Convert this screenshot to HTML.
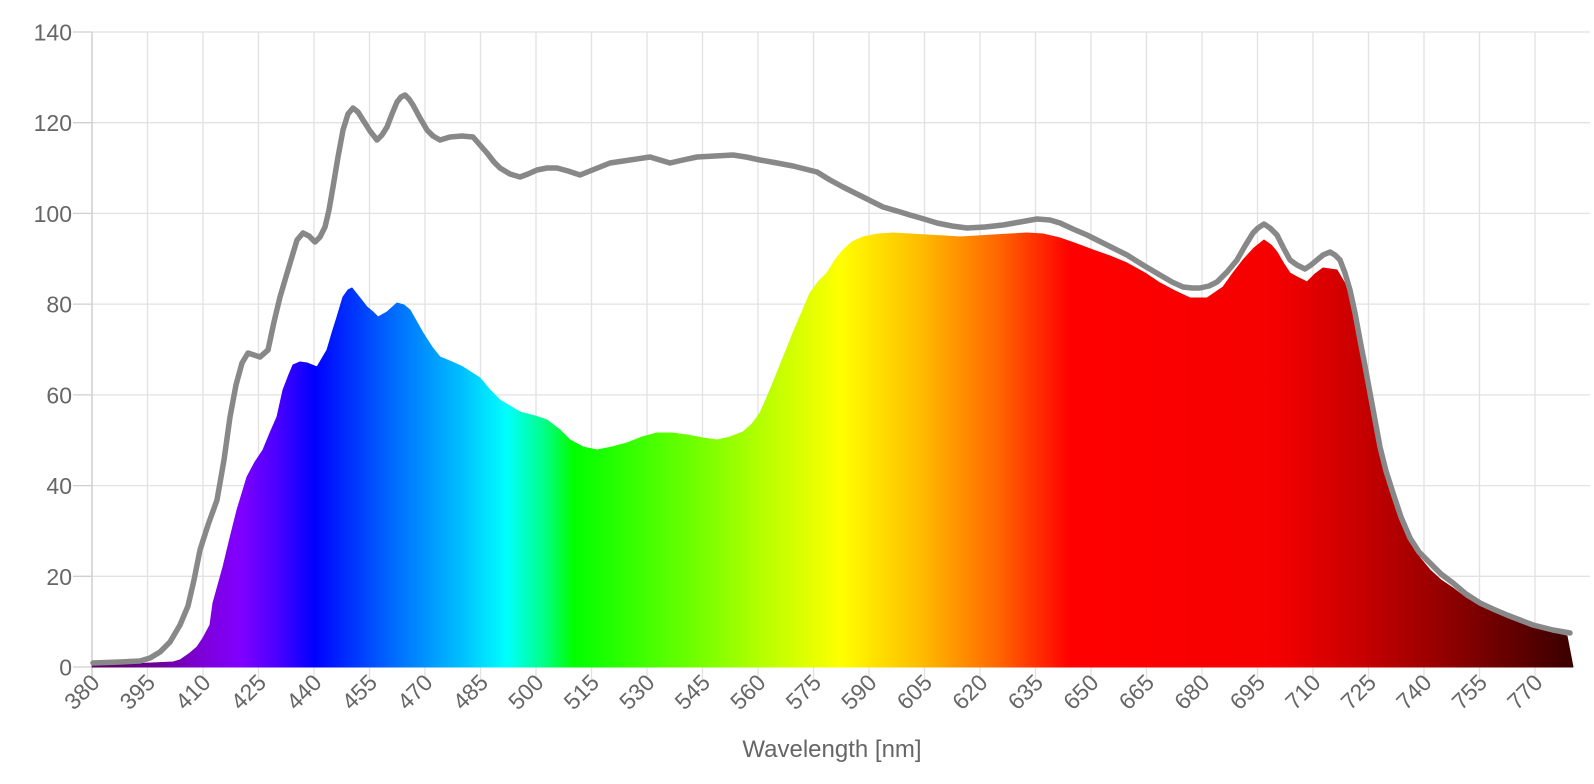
<!DOCTYPE html>
<html><head><meta charset="utf-8"><style>
html,body{margin:0;padding:0;background:#fff;}
svg{display:block;font-family:"Liberation Sans",Arial,sans-serif;}
</style></head><body>
<svg width="1594" height="784" viewBox="0 0 1594 784" xmlns="http://www.w3.org/2000/svg">
<defs>
<linearGradient id="sp" gradientUnits="userSpaceOnUse" x1="92" y1="0" x2="1573" y2="0">
<stop offset="0" stop-color="#5c0060"/>
<stop offset="0.04" stop-color="#6a0090"/>
<stop offset="0.075" stop-color="#7e00d8"/>
<stop offset="0.1" stop-color="#8000ff"/>
<stop offset="0.125" stop-color="#4a00ff"/>
<stop offset="0.15" stop-color="#0000ff"/>
<stop offset="0.2" stop-color="#0064ff"/>
<stop offset="0.25" stop-color="#00c0ff"/>
<stop offset="0.28" stop-color="#00ffff"/>
<stop offset="0.305" stop-color="#00ff88"/>
<stop offset="0.325" stop-color="#00ff00"/>
<stop offset="0.4" stop-color="#66ff00"/>
<stop offset="0.46" stop-color="#c0ff00"/>
<stop offset="0.505" stop-color="#ffff00"/>
<stop offset="0.56" stop-color="#ffbb00"/>
<stop offset="0.61" stop-color="#ff6a00"/>
<stop offset="0.66" stop-color="#ff0000"/>
<stop offset="0.8" stop-color="#f50000"/>
<stop offset="0.86" stop-color="#c40000"/>
<stop offset="0.9" stop-color="#a00000"/>
<stop offset="0.95" stop-color="#6c0000"/>
<stop offset="1" stop-color="#3a0000"/>
</linearGradient>
</defs>
<g stroke="#e2e2e2" stroke-width="1.3">
<line x1="92" y1="32" x2="1590" y2="32"/>
<line x1="92" y1="122.7" x2="1590" y2="122.7"/>
<line x1="92" y1="213.4" x2="1590" y2="213.4"/>
<line x1="92" y1="304.1" x2="1590" y2="304.1"/>
<line x1="92" y1="394.9" x2="1590" y2="394.9"/>
<line x1="92" y1="485.6" x2="1590" y2="485.6"/>
<line x1="92" y1="576.3" x2="1590" y2="576.3"/>
</g>
<g stroke="#e2e2e2" stroke-width="1.3">
<line x1="147.5" y1="32" x2="147.5" y2="680"/><line x1="203" y1="32" x2="203" y2="680"/>
<line x1="258.5" y1="32" x2="258.5" y2="680"/><line x1="314" y1="32" x2="314" y2="680"/>
<line x1="369.5" y1="32" x2="369.5" y2="680"/><line x1="425" y1="32" x2="425" y2="680"/>
<line x1="480.5" y1="32" x2="480.5" y2="680"/><line x1="536" y1="32" x2="536" y2="680"/>
<line x1="591.5" y1="32" x2="591.5" y2="680"/><line x1="647" y1="32" x2="647" y2="680"/>
<line x1="702.5" y1="32" x2="702.5" y2="680"/><line x1="758" y1="32" x2="758" y2="680"/>
<line x1="813.5" y1="32" x2="813.5" y2="680"/><line x1="869" y1="32" x2="869" y2="680"/>
<line x1="924.5" y1="32" x2="924.5" y2="680"/><line x1="980" y1="32" x2="980" y2="680"/>
<line x1="1035.5" y1="32" x2="1035.5" y2="680"/><line x1="1091" y1="32" x2="1091" y2="680"/>
<line x1="1146.5" y1="32" x2="1146.5" y2="680"/><line x1="1202" y1="32" x2="1202" y2="680"/>
<line x1="1257.5" y1="32" x2="1257.5" y2="680"/><line x1="1313" y1="32" x2="1313" y2="680"/>
<line x1="1368.5" y1="32" x2="1368.5" y2="680"/><line x1="1424" y1="32" x2="1424" y2="680"/>
<line x1="1479.5" y1="32" x2="1479.5" y2="680"/><line x1="1535" y1="32" x2="1535" y2="680"/>
</g>
<line x1="92" y1="32" x2="92" y2="680" stroke="#cfcfcf" stroke-width="1.5"/>
<g stroke="#cfcfcf" stroke-width="1.3">
<line x1="73" y1="32" x2="92" y2="32"/><line x1="73" y1="122.7" x2="92" y2="122.7"/>
<line x1="73" y1="213.4" x2="92" y2="213.4"/><line x1="73" y1="304.1" x2="92" y2="304.1"/>
<line x1="73" y1="394.9" x2="92" y2="394.9"/><line x1="73" y1="485.6" x2="92" y2="485.6"/>
<line x1="73" y1="576.3" x2="92" y2="576.3"/><line x1="73" y1="667" x2="92" y2="667"/>
</g>
<polygon fill="url(#sp)" stroke="url(#sp)" stroke-width="1" stroke-linejoin="round" points="92,667 93,664 130,664 173,662 180,660 190,653 197,647 203,638 210,625 213,603 218,585 223,567 230,538 237,510 247,477 255,462 263,450 270,433 277,417 283,390 288,377 293,365 300,362 307,363 317,367 327,350 332,333 337,317 343,297 348,290 352,288 360,298 367,307 373,312 378,317 387,312 397,303 404,305 410,310 423,333 432,347 440,357 452,362 463,367 480,378 490,390 500,400 510,406 520,412 535,416 547,420 560,430 570,440 583,447 597,450 612,447 627,443 642,437 657,433 672,433 687,435 703,438 717,440 730,437 743,432 752,424 760,413 768,395 777,373 785,353 793,333 802,312 810,293 818,282 827,273 835,260 843,250 852,242 863,237 878,234 893,233 910,234 927,235 945,236 960,237 977,236 993,235 1010,234 1027,233 1043,234 1060,238 1077,244 1093,250 1110,256 1127,263 1145,273 1160,283 1175,291 1190,298 1207,298 1223,287 1233,273 1243,260 1254,248 1264,240 1271,245 1277,252 1284,264 1290,273 1299,278 1307,282 1315,274 1323,268 1337,270 1347,287 1353,312 1360,345 1370,398 1380,450 1386,475 1393,497 1401,522 1410,543 1420,558 1430,570 1441,580 1453,588 1466,598 1480,606 1493,612 1507,618 1520,623 1533,628 1553,633 1567,636 1573,667"/>
<polyline fill="none" stroke="#888" stroke-width="5.5" stroke-linejoin="round" stroke-linecap="round" points="93,663 120,662 140,661 150,658 160,652 170,642 180,625 188,606 194,580 200,550 208,525 217,500 224,460 230,417 236,385 242,363 248,353 254,355 260,357 268,350 274,322 280,297 288,270 297,240 303,233 309,236 315,242 320,237 325,227 329,210 333,187 338,157 343,130 348,114 353,108 358,112 363,120 370,131 377,140 382,135 387,127 392,114 397,102 401,97 405,95 409,99 413,105 420,118 427,130 433,136 440,140 450,137 462,136 473,137 480,145 487,153 494,162 500,168 510,174 520,177 528,174 537,170 547,168 557,168 568,171 580,175 595,169 610,163 630,160 650,157 660,160 670,163 683,160 697,157 715,156 733,155 746,157 760,160 777,163 793,166 805,169 817,172 830,180 843,187 863,197 883,207 897,211 910,215 924,219 937,223 952,226 967,228 985,227 1003,225 1020,222 1037,219 1050,220 1060,223 1073,229 1087,235 1107,245 1127,255 1143,265 1160,275 1172,282 1183,287 1192,288 1200,288 1209,286 1217,282 1227,272 1237,260 1245,246 1253,233 1258,228 1264,224 1270,228 1277,235 1283,247 1290,260 1297,265 1305,269 1311,265 1317,260 1323,255 1330,252 1335,255 1340,260 1345,273 1350,290 1355,313 1360,340 1365,366 1370,393 1375,420 1380,447 1386,471 1393,493 1401,517 1410,538 1419,552 1430,563 1441,574 1453,583 1466,594 1480,603 1493,609 1507,615 1520,620 1533,625 1553,630 1570,633"/>
<g fill="#666" font-size="23" text-anchor="end">
<text x="72" y="40.5">140</text><text x="72" y="131.2">120</text>
<text x="72" y="221.9">100</text><text x="72" y="312.6">80</text>
<text x="72" y="403.4">60</text><text x="72" y="494.1">40</text>
<text x="72" y="584.8">20</text><text x="72" y="675.5">0</text>
</g>
<g fill="#666" font-size="23" text-anchor="end">
<text transform="translate(101,684) rotate(-45)">380</text>
<text transform="translate(156.5,684) rotate(-45)">395</text>
<text transform="translate(212,684) rotate(-45)">410</text>
<text transform="translate(267.5,684) rotate(-45)">425</text>
<text transform="translate(323,684) rotate(-45)">440</text>
<text transform="translate(378.5,684) rotate(-45)">455</text>
<text transform="translate(434,684) rotate(-45)">470</text>
<text transform="translate(489.5,684) rotate(-45)">485</text>
<text transform="translate(545,684) rotate(-45)">500</text>
<text transform="translate(600.5,684) rotate(-45)">515</text>
<text transform="translate(656,684) rotate(-45)">530</text>
<text transform="translate(711.5,684) rotate(-45)">545</text>
<text transform="translate(767,684) rotate(-45)">560</text>
<text transform="translate(822.5,684) rotate(-45)">575</text>
<text transform="translate(878,684) rotate(-45)">590</text>
<text transform="translate(933.5,684) rotate(-45)">605</text>
<text transform="translate(989,684) rotate(-45)">620</text>
<text transform="translate(1044.5,684) rotate(-45)">635</text>
<text transform="translate(1100,684) rotate(-45)">650</text>
<text transform="translate(1155.5,684) rotate(-45)">665</text>
<text transform="translate(1211,684) rotate(-45)">680</text>
<text transform="translate(1266.5,684) rotate(-45)">695</text>
<text transform="translate(1322,684) rotate(-45)">710</text>
<text transform="translate(1377.5,684) rotate(-45)">725</text>
<text transform="translate(1433,684) rotate(-45)">740</text>
<text transform="translate(1488.5,684) rotate(-45)">755</text>
<text transform="translate(1544,684) rotate(-45)">770</text>
</g>
<text x="832" y="757" fill="#666" font-size="24" text-anchor="middle">Wavelength [nm]</text>
</svg>
</body></html>
